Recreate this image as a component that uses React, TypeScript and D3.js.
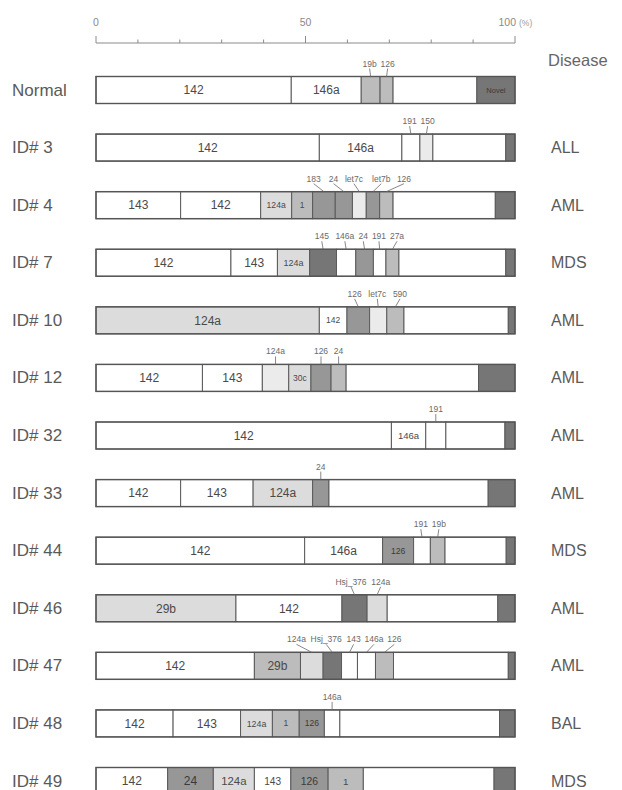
import React from 'react';
import * as d3 from 'd3';

// row labels and disease
const rowLabels = ['Normal', 'ID# 3', 'ID# 4', 'ID# 7', 'ID# 10', 'ID# 12', 'ID# 32', 'ID# 33', 'ID# 44', 'ID# 46', 'ID# 47', 'ID# 48', 'ID# 49'];
const diseases = ['', 'ALL', 'AML', 'MDS', 'AML', 'AML', 'AML', 'AML', 'MDS', 'AML', 'AML', 'BAL', 'MDS'];

// per-sample miRNA clone shares (%), tone = grey level of the segment
const normalMiR = ['142', '146a', '19b', '126', 'other', 'Novel'];
const normalPct = [46.6, 16.7, 4.5, 3.1, 20.0, 9.1];
const normalTone = [0, 0, 3, 3, 0, 5];
const normalAbove = ['19b', '126'];

const id3MiR = ['142', '146a', '191', '150', 'other', 'Novel'];
const id3Pct = [53.3, 19.7, 4.3, 3.1, 17.4, 2.2];
const id3Tone = [0, 0, 0, 1, 0, 5];
const id3Above = ['191', '150'];

const id4MiR = ['143', '142', '124a', '1', '183', '24', 'let7c', 'let7b', '126', 'other', 'Novel'];
const id4Pct = [20.2, 19.1, 7.4, 5.0, 5.4, 4.1, 3.3, 3.2, 3.2, 24.4, 4.7];
const id4Tone = [0, 0, 2, 3, 4, 4, 1, 4, 3, 0, 5];
const id4Above = ['183', '24', 'let7c', 'let7b', '126'];

const id7MiR = ['142', '143', '124a', '145', '146a', '24', '191', '27a', 'other', 'Novel'];
const id7Pct = [32.2, 11.1, 7.7, 6.4, 4.6, 4.2, 3.0, 3.1, 25.5, 2.2];
const id7Tone = [0, 0, 2, 5, 0, 4, 0, 3, 0, 5];
const id7Above = ['145', '146a', '24', '191', '27a'];

const id10MiR = ['124a', '142', '126', 'let7c', '590', 'other', 'Novel'];
const id10Pct = [53.3, 6.6, 5.4, 4.1, 4.1, 24.9, 1.6];
const id10Tone = [2, 0, 4, 1, 3, 0, 5];
const id10Above = ['126', 'let7c', '590'];

const id12MiR = ['142', '143', '124a', '30c', '126', '24', 'other', 'Novel'];
const id12Pct = [25.4, 14.3, 6.3, 5.3, 4.8, 3.6, 31.6, 8.7];
const id12Tone = [0, 0, 1, 2, 4, 3, 0, 5];
const id12Above = ['124a', '126', '24'];

const id32MiR = ['142', '146a', '191', 'other', 'Novel'];
const id32Pct = [70.5, 8.2, 4.8, 14.1, 2.4];
const id32Tone = [0, 0, 0, 0, 5];
const id32Above = ['191'];

const id33MiR = ['142', '143', '124a', '24', 'other', 'Novel'];
const id33Pct = [20.2, 17.3, 14.2, 3.9, 38.0, 6.4];
const id33Tone = [0, 0, 2, 4, 0, 5];
const id33Above = ['24'];

const id44MiR = ['142', '146a', '126', '191', '19b', 'other', 'Novel'];
const id44Pct = [49.8, 18.6, 7.4, 4.0, 3.5, 14.6, 2.1];
const id44Tone = [0, 0, 4, 0, 3, 0, 5];
const id44Above = ['191', '19b'];

const id46MiR = ['29b', '142', 'Hsj_376', '124a', 'other', 'Novel'];
const id46Pct = [33.4, 25.3, 6.0, 4.8, 26.4, 4.1];
const id46Tone = [2, 0, 5, 2, 0, 5];
const id46Above = ['Hsj_376', '124a'];

const id47MiR = ['142', '29b', '124a', 'Hsj_376', '143', '146a', '126', 'other', 'Novel'];
const id47Pct = [37.8, 11.0, 5.4, 4.4, 3.8, 4.3, 4.3, 27.4, 1.6];
const id47Tone = [0, 3, 2, 5, 0, 0, 3, 0, 5];
const id47Above = ['124a', 'Hsj_376', '143', '146a', '126'];

const id48MiR = ['142', '143', '124a', '1', '126', '146a', 'other', 'Novel'];
const id48Pct = [18.4, 16.1, 7.6, 6.4, 6.0, 3.7, 38.1, 3.7];
const id48Tone = [0, 0, 2, 3, 4, 0, 0, 5];
const id48Above = ['146a'];

const id49MiR = ['142', '24', '124a', '143', '126', '1', 'other', 'Novel'];
const id49Pct = [17.1, 10.9, 9.8, 8.7, 8.9, 8.4, 31.2, 5.0];
const id49Tone = [0, 4, 2, 0, 4, 3, 0, 5];
const id49Above: string[] = [];

const axisTicks = [0, 10, 20, 30, 40, 50, 60, 70, 80, 90, 100];
const axisLabels = [0, 50, 100];
const showNovel = ['Normal'];

const rows = [
  [normalMiR, normalPct, normalTone, normalAbove],
  [id3MiR, id3Pct, id3Tone, id3Above],
  [id4MiR, id4Pct, id4Tone, id4Above],
  [id7MiR, id7Pct, id7Tone, id7Above],
  [id10MiR, id10Pct, id10Tone, id10Above],
  [id12MiR, id12Pct, id12Tone, id12Above],
  [id32MiR, id32Pct, id32Tone, id32Above],
  [id33MiR, id33Pct, id33Tone, id33Above],
  [id44MiR, id44Pct, id44Tone, id44Above],
  [id46MiR, id46Pct, id46Tone, id46Above],
  [id47MiR, id47Pct, id47Tone, id47Above],
  [id48MiR, id48Pct, id48Tone, id48Above],
  [id49MiR, id49Pct, id49Tone, id49Above],
] as [string[], number[], number[], string[]][];

const toneColors = ['#ffffff', '#ebebeb', '#dcdcdc', '#bcbcbc', '#979797', '#767676'];
const FONT = '"Liberation Sans", Arial, Helvetica, sans-serif';

export default function App() {
  const width = 622;
  const height = 790;
  const x = d3.scaleLinear().domain([0, 100]).range([96, 515]);
  const y = d3.scaleLinear().domain([0, rowLabels.length - 1]).range([90, 781]);
  const barH = 27;
  const axisY = 43;
  const topFs = 8.5;

  return (
    <svg width={width} height={height} style={{ position: 'absolute', left: 0, top: 0, background: '#fff' }} fontFamily={FONT}>
      {/* axis */}
      <g>
        <line x1={x(0)} x2={x(100)} y1={axisY} y2={axisY} stroke="#8a8a8a" strokeWidth={1} />
        {axisTicks.map(t => (
          <line key={t} x1={x(t)} x2={x(t)} y1={axisY} y2={axisY - (t % 50 === 0 ? 7 : 3.5)} stroke="#8a8a8a" strokeWidth={1} />
        ))}
        {axisLabels.map(t => (
          <text key={t} x={t === 100 ? x(t) + 1 : x(t)} y={26} fontSize={10.5} fill="#8a8a8a"
            textAnchor={t === 100 ? 'end' : 'middle'}>{t}</text>
        ))}
        <text x={x(100) + 4} y={26} fontSize={8.5} fill="#9a9a9a">(%)</text>
      </g>
      <text x={548} y={66} fontSize={16.5} fill="#666">Disease</text>

      {rows.map(([names, pcts, tones, above], ri) => {
        const cy = y(ri);
        const top = cy - barH / 2;
        const starts = d3.cumsum([0, ...pcts.slice(0, -1)]);
        const segs = names.map((n, i) => ({
          name: n, x0: x(starts[i]), x1: x(starts[i] + pcts[i]), tone: tones[i],
        }));
        // place top labels, pushed apart so they do not overlap
        const tops = segs.filter(s => above.includes(s.name)).map(s => ({
          name: s.name, c: (s.x0 + s.x1) / 2, w: s.name.length * topFs * 0.55, p: (s.x0 + s.x1) / 2,
        }));
        for (let i = 1; i < tops.length; i++) {
          const minP = tops[i - 1].p + (tops[i - 1].w + tops[i].w) / 2 + 4;
          if (tops[i].p < minP) tops[i].p = minP;
        }
        if (tops.length > 1) {
          const shift = d3.mean(tops, t => t.c)! - d3.mean(tops, t => t.p)!;
          tops.forEach(t => { t.p += shift; });
        }
        return (
          <g key={ri}>
            <text x={12} y={cy + 5.5} fontSize={17} fill="#5a5a5a">{rowLabels[ri]}</text>
            <text x={551} y={cy + 5.5} fontSize={16} fill="#5a5a5a">{diseases[ri]}</text>
            {segs.map((s, i) => (
              <rect key={i} x={s.x0} y={top} width={s.x1 - s.x0} height={barH}
                fill={toneColors[s.tone]} stroke="#5a5a5a" strokeWidth={1} />
            ))}
            <rect x={x(0)} y={top} width={x(100) - x(0)} height={barH} fill="none" stroke="#555" strokeWidth={1.4} />
            {segs.map((s, i) => {
              if (s.name === 'other' || above.includes(s.name)) return null;
              if (s.name === 'Novel' && !showNovel.includes(rowLabels[ri])) return null;
              const w = s.x1 - s.x0;
              const fs = s.name === 'Novel' ? 7.5 : Math.min(12, Math.max(8.5, w / 3.6));
              return (
                <text key={'t' + i} x={(s.x0 + s.x1) / 2} y={cy + fs * 0.36} fontSize={fs}
                  textAnchor="middle" fill={s.tone >= 4 ? '#3a3a3a' : '#4a4a4a'}>{s.name}</text>
              );
            })}
            {tops.map(t => (
              <g key={'a' + t.name}>
                <text x={t.p} y={top - 10} fontSize={topFs} textAnchor="middle" fill="#6a6a6a">{t.name}</text>
                <line x1={t.p} y1={top - 8} x2={t.c} y2={top} stroke="#6a6a6a" strokeWidth={0.8} />
              </g>
            ))}
          </g>
        );
      })}
    </svg>
  );
}
